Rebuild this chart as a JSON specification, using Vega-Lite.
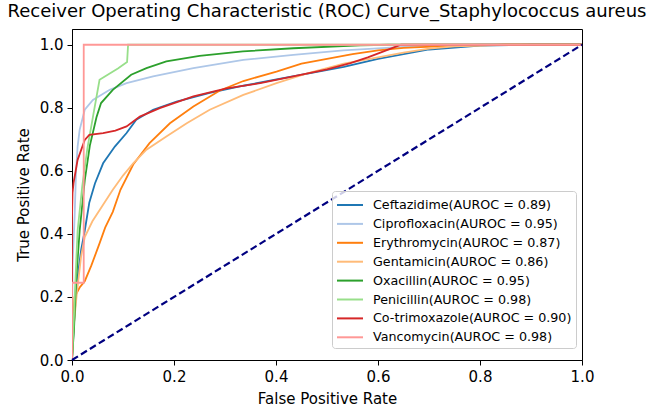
{
  "$schema": "https://vega.github.io/schema/vega-lite/v6.json",
  "width": 510,
  "height": 331,
  "autosize": {"type": "none"},
  "padding": {"left": 72, "top": 29, "right": 75, "bottom": 51},
  "background": "white",
  "title": {"text": "Receiver Operating Characteristic (ROC) Curve_Staphylococcus aureus", "fontSize": 18, "font": "DejaVu Sans", "fontWeight": "normal", "color": "black", "anchor": "middle", "offset": 8},
  "config": {
    "view": {"stroke": "black", "strokeWidth": 1},
    "axis": {"domainColor": "black", "tickColor": "black", "tickSize": 5, "labelColor": "black", "titleColor": "black", "labelFont": "DejaVu Sans", "titleFont": "DejaVu Sans", "labelFontSize": 15, "titleFontSize": 15, "titleFontWeight": "normal", "grid": false, "labelPadding": 4, "labelFlush": false, "labelOverlap": false},
    "legend": {"orient": "none", "legendX": 260, "legendY": 162, "labelFont": "DejaVu Sans", "labelFontSize": 12.7, "labelColor": "black", "labelLimit": 300, "symbolType": "M-1,0H1.89", "symbolSize": 324, "symbolStrokeWidth": 2, "rowPadding": 1.9, "padding": 4, "strokeColor": "#cccccc", "fillColor": "rgba(255,255,255,0.8)", "cornerRadius": 3, "labelOffset": 17}
  },
  "datasets": {
    "roc": [
      {"drug": "Ceftazidime(AUROC = 0.89)", "i": 0, "fpr": 0, "tpr": 0},
      {"drug": "Ceftazidime(AUROC = 0.89)", "i": 1, "fpr": 0.004, "tpr": 0.12},
      {"drug": "Ceftazidime(AUROC = 0.89)", "i": 2, "fpr": 0.01, "tpr": 0.25},
      {"drug": "Ceftazidime(AUROC = 0.89)", "i": 3, "fpr": 0.018, "tpr": 0.35},
      {"drug": "Ceftazidime(AUROC = 0.89)", "i": 4, "fpr": 0.025, "tpr": 0.41},
      {"drug": "Ceftazidime(AUROC = 0.89)", "i": 5, "fpr": 0.034, "tpr": 0.5},
      {"drug": "Ceftazidime(AUROC = 0.89)", "i": 6, "fpr": 0.045, "tpr": 0.56},
      {"drug": "Ceftazidime(AUROC = 0.89)", "i": 7, "fpr": 0.061, "tpr": 0.624},
      {"drug": "Ceftazidime(AUROC = 0.89)", "i": 8, "fpr": 0.084, "tpr": 0.677},
      {"drug": "Ceftazidime(AUROC = 0.89)", "i": 9, "fpr": 0.107, "tpr": 0.72},
      {"drug": "Ceftazidime(AUROC = 0.89)", "i": 10, "fpr": 0.126, "tpr": 0.762},
      {"drug": "Ceftazidime(AUROC = 0.89)", "i": 11, "fpr": 0.159, "tpr": 0.794},
      {"drug": "Ceftazidime(AUROC = 0.89)", "i": 12, "fpr": 0.205, "tpr": 0.82},
      {"drug": "Ceftazidime(AUROC = 0.89)", "i": 13, "fpr": 0.27, "tpr": 0.847},
      {"drug": "Ceftazidime(AUROC = 0.89)", "i": 14, "fpr": 0.336, "tpr": 0.87},
      {"drug": "Ceftazidime(AUROC = 0.89)", "i": 15, "fpr": 0.401, "tpr": 0.89},
      {"drug": "Ceftazidime(AUROC = 0.89)", "i": 16, "fpr": 0.467, "tpr": 0.91},
      {"drug": "Ceftazidime(AUROC = 0.89)", "i": 17, "fpr": 0.533, "tpr": 0.93},
      {"drug": "Ceftazidime(AUROC = 0.89)", "i": 18, "fpr": 0.6, "tpr": 0.955},
      {"drug": "Ceftazidime(AUROC = 0.89)", "i": 19, "fpr": 0.65, "tpr": 0.97},
      {"drug": "Ceftazidime(AUROC = 0.89)", "i": 20, "fpr": 0.7, "tpr": 0.985},
      {"drug": "Ceftazidime(AUROC = 0.89)", "i": 21, "fpr": 0.8, "tpr": 0.997},
      {"drug": "Ceftazidime(AUROC = 0.89)", "i": 22, "fpr": 0.9, "tpr": 1},
      {"drug": "Ceftazidime(AUROC = 0.89)", "i": 23, "fpr": 1, "tpr": 1},
      {"drug": "Ciprofloxacin(AUROC = 0.95)", "i": 0, "fpr": 0, "tpr": 0},
      {"drug": "Ciprofloxacin(AUROC = 0.95)", "i": 1, "fpr": 0.001, "tpr": 0.3},
      {"drug": "Ciprofloxacin(AUROC = 0.95)", "i": 2, "fpr": 0.005, "tpr": 0.45},
      {"drug": "Ciprofloxacin(AUROC = 0.95)", "i": 3, "fpr": 0.008, "tpr": 0.6},
      {"drug": "Ciprofloxacin(AUROC = 0.95)", "i": 4, "fpr": 0.011, "tpr": 0.677},
      {"drug": "Ciprofloxacin(AUROC = 0.95)", "i": 5, "fpr": 0.015, "tpr": 0.73},
      {"drug": "Ciprofloxacin(AUROC = 0.95)", "i": 6, "fpr": 0.025, "tpr": 0.794},
      {"drug": "Ciprofloxacin(AUROC = 0.95)", "i": 7, "fpr": 0.041, "tpr": 0.825},
      {"drug": "Ciprofloxacin(AUROC = 0.95)", "i": 8, "fpr": 0.074, "tpr": 0.857},
      {"drug": "Ciprofloxacin(AUROC = 0.95)", "i": 9, "fpr": 0.107, "tpr": 0.878},
      {"drug": "Ciprofloxacin(AUROC = 0.95)", "i": 10, "fpr": 0.159, "tpr": 0.9},
      {"drug": "Ciprofloxacin(AUROC = 0.95)", "i": 11, "fpr": 0.238, "tpr": 0.926},
      {"drug": "Ciprofloxacin(AUROC = 0.95)", "i": 12, "fpr": 0.336, "tpr": 0.952},
      {"drug": "Ciprofloxacin(AUROC = 0.95)", "i": 13, "fpr": 0.434, "tpr": 0.968},
      {"drug": "Ciprofloxacin(AUROC = 0.95)", "i": 14, "fpr": 0.532, "tpr": 0.982},
      {"drug": "Ciprofloxacin(AUROC = 0.95)", "i": 15, "fpr": 0.65, "tpr": 0.993},
      {"drug": "Ciprofloxacin(AUROC = 0.95)", "i": 16, "fpr": 0.8, "tpr": 1},
      {"drug": "Ciprofloxacin(AUROC = 0.95)", "i": 17, "fpr": 1, "tpr": 1},
      {"drug": "Erythromycin(AUROC = 0.87)", "i": 0, "fpr": 0, "tpr": 0},
      {"drug": "Erythromycin(AUROC = 0.87)", "i": 1, "fpr": 0.002, "tpr": 0.1},
      {"drug": "Erythromycin(AUROC = 0.87)", "i": 2, "fpr": 0.005, "tpr": 0.2},
      {"drug": "Erythromycin(AUROC = 0.87)", "i": 3, "fpr": 0.015, "tpr": 0.23},
      {"drug": "Erythromycin(AUROC = 0.87)", "i": 4, "fpr": 0.025, "tpr": 0.25},
      {"drug": "Erythromycin(AUROC = 0.87)", "i": 5, "fpr": 0.038, "tpr": 0.3},
      {"drug": "Erythromycin(AUROC = 0.87)", "i": 6, "fpr": 0.054, "tpr": 0.37},
      {"drug": "Erythromycin(AUROC = 0.87)", "i": 7, "fpr": 0.065, "tpr": 0.42},
      {"drug": "Erythromycin(AUROC = 0.87)", "i": 8, "fpr": 0.08, "tpr": 0.47},
      {"drug": "Erythromycin(AUROC = 0.87)", "i": 9, "fpr": 0.095, "tpr": 0.54},
      {"drug": "Erythromycin(AUROC = 0.87)", "i": 10, "fpr": 0.12, "tpr": 0.62},
      {"drug": "Erythromycin(AUROC = 0.87)", "i": 11, "fpr": 0.152, "tpr": 0.688},
      {"drug": "Erythromycin(AUROC = 0.87)", "i": 12, "fpr": 0.192, "tpr": 0.751},
      {"drug": "Erythromycin(AUROC = 0.87)", "i": 13, "fpr": 0.238, "tpr": 0.804},
      {"drug": "Erythromycin(AUROC = 0.87)", "i": 14, "fpr": 0.29, "tpr": 0.855},
      {"drug": "Erythromycin(AUROC = 0.87)", "i": 15, "fpr": 0.336, "tpr": 0.885},
      {"drug": "Erythromycin(AUROC = 0.87)", "i": 16, "fpr": 0.401, "tpr": 0.915},
      {"drug": "Erythromycin(AUROC = 0.87)", "i": 17, "fpr": 0.45, "tpr": 0.94},
      {"drug": "Erythromycin(AUROC = 0.87)", "i": 18, "fpr": 0.5, "tpr": 0.955},
      {"drug": "Erythromycin(AUROC = 0.87)", "i": 19, "fpr": 0.55, "tpr": 0.97},
      {"drug": "Erythromycin(AUROC = 0.87)", "i": 20, "fpr": 0.6, "tpr": 0.982},
      {"drug": "Erythromycin(AUROC = 0.87)", "i": 21, "fpr": 0.65, "tpr": 0.99},
      {"drug": "Erythromycin(AUROC = 0.87)", "i": 22, "fpr": 0.75, "tpr": 0.997},
      {"drug": "Erythromycin(AUROC = 0.87)", "i": 23, "fpr": 0.85, "tpr": 1},
      {"drug": "Erythromycin(AUROC = 0.87)", "i": 24, "fpr": 1, "tpr": 1},
      {"drug": "Gentamicin(AUROC = 0.86)", "i": 0, "fpr": 0, "tpr": 0},
      {"drug": "Gentamicin(AUROC = 0.86)", "i": 1, "fpr": 0.003, "tpr": 0.1},
      {"drug": "Gentamicin(AUROC = 0.86)", "i": 2, "fpr": 0.01, "tpr": 0.22},
      {"drug": "Gentamicin(AUROC = 0.86)", "i": 3, "fpr": 0.018, "tpr": 0.33},
      {"drug": "Gentamicin(AUROC = 0.86)", "i": 4, "fpr": 0.025, "tpr": 0.39},
      {"drug": "Gentamicin(AUROC = 0.86)", "i": 5, "fpr": 0.04, "tpr": 0.44},
      {"drug": "Gentamicin(AUROC = 0.86)", "i": 6, "fpr": 0.06, "tpr": 0.49},
      {"drug": "Gentamicin(AUROC = 0.86)", "i": 7, "fpr": 0.08, "tpr": 0.54},
      {"drug": "Gentamicin(AUROC = 0.86)", "i": 8, "fpr": 0.1, "tpr": 0.585},
      {"drug": "Gentamicin(AUROC = 0.86)", "i": 9, "fpr": 0.12, "tpr": 0.624},
      {"drug": "Gentamicin(AUROC = 0.86)", "i": 10, "fpr": 0.146, "tpr": 0.667},
      {"drug": "Gentamicin(AUROC = 0.86)", "i": 11, "fpr": 0.185, "tpr": 0.709},
      {"drug": "Gentamicin(AUROC = 0.86)", "i": 12, "fpr": 0.225, "tpr": 0.751},
      {"drug": "Gentamicin(AUROC = 0.86)", "i": 13, "fpr": 0.27, "tpr": 0.794},
      {"drug": "Gentamicin(AUROC = 0.86)", "i": 14, "fpr": 0.336, "tpr": 0.841},
      {"drug": "Gentamicin(AUROC = 0.86)", "i": 15, "fpr": 0.401, "tpr": 0.878},
      {"drug": "Gentamicin(AUROC = 0.86)", "i": 16, "fpr": 0.467, "tpr": 0.912},
      {"drug": "Gentamicin(AUROC = 0.86)", "i": 17, "fpr": 0.533, "tpr": 0.94},
      {"drug": "Gentamicin(AUROC = 0.86)", "i": 18, "fpr": 0.6, "tpr": 0.96},
      {"drug": "Gentamicin(AUROC = 0.86)", "i": 19, "fpr": 0.65, "tpr": 0.975},
      {"drug": "Gentamicin(AUROC = 0.86)", "i": 20, "fpr": 0.7, "tpr": 0.988},
      {"drug": "Gentamicin(AUROC = 0.86)", "i": 21, "fpr": 0.75, "tpr": 0.995},
      {"drug": "Gentamicin(AUROC = 0.86)", "i": 22, "fpr": 0.85, "tpr": 1},
      {"drug": "Gentamicin(AUROC = 0.86)", "i": 23, "fpr": 1, "tpr": 1},
      {"drug": "Oxacillin(AUROC = 0.95)", "i": 0, "fpr": 0, "tpr": 0},
      {"drug": "Oxacillin(AUROC = 0.95)", "i": 1, "fpr": 0.004, "tpr": 0.1},
      {"drug": "Oxacillin(AUROC = 0.95)", "i": 2, "fpr": 0.008, "tpr": 0.25},
      {"drug": "Oxacillin(AUROC = 0.95)", "i": 3, "fpr": 0.015, "tpr": 0.41},
      {"drug": "Oxacillin(AUROC = 0.95)", "i": 4, "fpr": 0.025, "tpr": 0.57},
      {"drug": "Oxacillin(AUROC = 0.95)", "i": 5, "fpr": 0.035, "tpr": 0.68},
      {"drug": "Oxacillin(AUROC = 0.95)", "i": 6, "fpr": 0.048, "tpr": 0.77},
      {"drug": "Oxacillin(AUROC = 0.95)", "i": 7, "fpr": 0.057, "tpr": 0.815},
      {"drug": "Oxacillin(AUROC = 0.95)", "i": 8, "fpr": 0.08, "tpr": 0.857},
      {"drug": "Oxacillin(AUROC = 0.95)", "i": 9, "fpr": 0.116, "tpr": 0.905},
      {"drug": "Oxacillin(AUROC = 0.95)", "i": 10, "fpr": 0.146, "tpr": 0.926},
      {"drug": "Oxacillin(AUROC = 0.95)", "i": 11, "fpr": 0.185, "tpr": 0.947},
      {"drug": "Oxacillin(AUROC = 0.95)", "i": 12, "fpr": 0.25, "tpr": 0.965},
      {"drug": "Oxacillin(AUROC = 0.95)", "i": 13, "fpr": 0.335, "tpr": 0.979},
      {"drug": "Oxacillin(AUROC = 0.95)", "i": 14, "fpr": 0.434, "tpr": 0.989},
      {"drug": "Oxacillin(AUROC = 0.95)", "i": 15, "fpr": 0.565, "tpr": 0.998},
      {"drug": "Oxacillin(AUROC = 0.95)", "i": 16, "fpr": 0.62, "tpr": 1},
      {"drug": "Oxacillin(AUROC = 0.95)", "i": 17, "fpr": 1, "tpr": 1},
      {"drug": "Penicillin(AUROC = 0.98)", "i": 0, "fpr": 0, "tpr": 0},
      {"drug": "Penicillin(AUROC = 0.98)", "i": 1, "fpr": 0.004, "tpr": 0.15},
      {"drug": "Penicillin(AUROC = 0.98)", "i": 2, "fpr": 0.008, "tpr": 0.3},
      {"drug": "Penicillin(AUROC = 0.98)", "i": 3, "fpr": 0.011, "tpr": 0.41},
      {"drug": "Penicillin(AUROC = 0.98)", "i": 4, "fpr": 0.02, "tpr": 0.55},
      {"drug": "Penicillin(AUROC = 0.98)", "i": 5, "fpr": 0.03, "tpr": 0.67},
      {"drug": "Penicillin(AUROC = 0.98)", "i": 6, "fpr": 0.042, "tpr": 0.78},
      {"drug": "Penicillin(AUROC = 0.98)", "i": 7, "fpr": 0.054, "tpr": 0.889},
      {"drug": "Penicillin(AUROC = 0.98)", "i": 8, "fpr": 0.07, "tpr": 0.905},
      {"drug": "Penicillin(AUROC = 0.98)", "i": 9, "fpr": 0.09, "tpr": 0.925},
      {"drug": "Penicillin(AUROC = 0.98)", "i": 10, "fpr": 0.108, "tpr": 0.945},
      {"drug": "Penicillin(AUROC = 0.98)", "i": 11, "fpr": 0.11, "tpr": 1},
      {"drug": "Penicillin(AUROC = 0.98)", "i": 12, "fpr": 1, "tpr": 1},
      {"drug": "Co-trimoxazole(AUROC = 0.90)", "i": 0, "fpr": 0, "tpr": 0},
      {"drug": "Co-trimoxazole(AUROC = 0.90)", "i": 1, "fpr": 0, "tpr": 0.45},
      {"drug": "Co-trimoxazole(AUROC = 0.90)", "i": 2, "fpr": 0.001, "tpr": 0.53},
      {"drug": "Co-trimoxazole(AUROC = 0.90)", "i": 3, "fpr": 0.003, "tpr": 0.561},
      {"drug": "Co-trimoxazole(AUROC = 0.90)", "i": 4, "fpr": 0.011, "tpr": 0.635},
      {"drug": "Co-trimoxazole(AUROC = 0.90)", "i": 5, "fpr": 0.025, "tpr": 0.698},
      {"drug": "Co-trimoxazole(AUROC = 0.90)", "i": 6, "fpr": 0.034, "tpr": 0.714},
      {"drug": "Co-trimoxazole(AUROC = 0.90)", "i": 7, "fpr": 0.061, "tpr": 0.72},
      {"drug": "Co-trimoxazole(AUROC = 0.90)", "i": 8, "fpr": 0.085, "tpr": 0.728},
      {"drug": "Co-trimoxazole(AUROC = 0.90)", "i": 9, "fpr": 0.107, "tpr": 0.741},
      {"drug": "Co-trimoxazole(AUROC = 0.90)", "i": 10, "fpr": 0.133, "tpr": 0.772},
      {"drug": "Co-trimoxazole(AUROC = 0.90)", "i": 11, "fpr": 0.172, "tpr": 0.799},
      {"drug": "Co-trimoxazole(AUROC = 0.90)", "i": 12, "fpr": 0.238, "tpr": 0.836},
      {"drug": "Co-trimoxazole(AUROC = 0.90)", "i": 13, "fpr": 0.303, "tpr": 0.862},
      {"drug": "Co-trimoxazole(AUROC = 0.90)", "i": 14, "fpr": 0.369, "tpr": 0.878},
      {"drug": "Co-trimoxazole(AUROC = 0.90)", "i": 15, "fpr": 0.434, "tpr": 0.9},
      {"drug": "Co-trimoxazole(AUROC = 0.90)", "i": 16, "fpr": 0.5, "tpr": 0.922},
      {"drug": "Co-trimoxazole(AUROC = 0.90)", "i": 17, "fpr": 0.546, "tpr": 0.942},
      {"drug": "Co-trimoxazole(AUROC = 0.90)", "i": 18, "fpr": 0.58, "tpr": 0.96},
      {"drug": "Co-trimoxazole(AUROC = 0.90)", "i": 19, "fpr": 0.611, "tpr": 0.979},
      {"drug": "Co-trimoxazole(AUROC = 0.90)", "i": 20, "fpr": 0.645, "tpr": 1},
      {"drug": "Co-trimoxazole(AUROC = 0.90)", "i": 21, "fpr": 1, "tpr": 1},
      {"drug": "Vancomycin(AUROC = 0.98)", "i": 0, "fpr": 0, "tpr": 0},
      {"drug": "Vancomycin(AUROC = 0.98)", "i": 1, "fpr": 0, "tpr": 0.245},
      {"drug": "Vancomycin(AUROC = 0.98)", "i": 2, "fpr": 0.023, "tpr": 0.245},
      {"drug": "Vancomycin(AUROC = 0.98)", "i": 3, "fpr": 0.023, "tpr": 1},
      {"drug": "Vancomycin(AUROC = 0.98)", "i": 4, "fpr": 1, "tpr": 1}
    ],
    "diag": [
      {"fpr": 0, "tpr": 0},
      {"fpr": 1, "tpr": 1}
    ]
  },
  "encoding": {
    "x": {"field": "fpr", "type": "quantitative", "scale": {"domain": [0, 1], "nice": false, "zero": false}, "axis": {"title": "False Positive Rate", "values": [0, 0.2, 0.4, 0.6, 0.8, 1], "format": ".1f", "titlePadding": 7}},
    "y": {"field": "tpr", "type": "quantitative", "scale": {"domain": [0, 1.05], "nice": false, "zero": false}, "axis": {"title": "True Positive Rate", "values": [0, 0.2, 0.4, 0.6, 0.8, 1], "format": ".1f", "titlePadding": 8}}
  },
  "layer": [
    {
      "data": {"name": "roc"},
      "mark": {"type": "line", "strokeWidth": 1.8, "clip": true},
      "encoding": {
        "color": {"field": "drug", "type": "nominal", "title": null,
          "scale": {"domain": ["Ceftazidime(AUROC = 0.89)", "Ciprofloxacin(AUROC = 0.95)", "Erythromycin(AUROC = 0.87)", "Gentamicin(AUROC = 0.86)", "Oxacillin(AUROC = 0.95)", "Penicillin(AUROC = 0.98)", "Co-trimoxazole(AUROC = 0.90)", "Vancomycin(AUROC = 0.98)"],
            "range": ["#1f77b4", "#aec7e8", "#ff7f0e", "#ffbb78", "#2ca02c", "#98df8a", "#d62728", "#ff9896"]}},
        "order": {"field": "i", "type": "quantitative"}
      }
    },
    {
      "data": {"name": "diag"},
      "mark": {"type": "line", "color": "navy", "strokeDash": [7, 3.5], "strokeWidth": 2.2},
      "encoding": {}
    }
  ]
}
